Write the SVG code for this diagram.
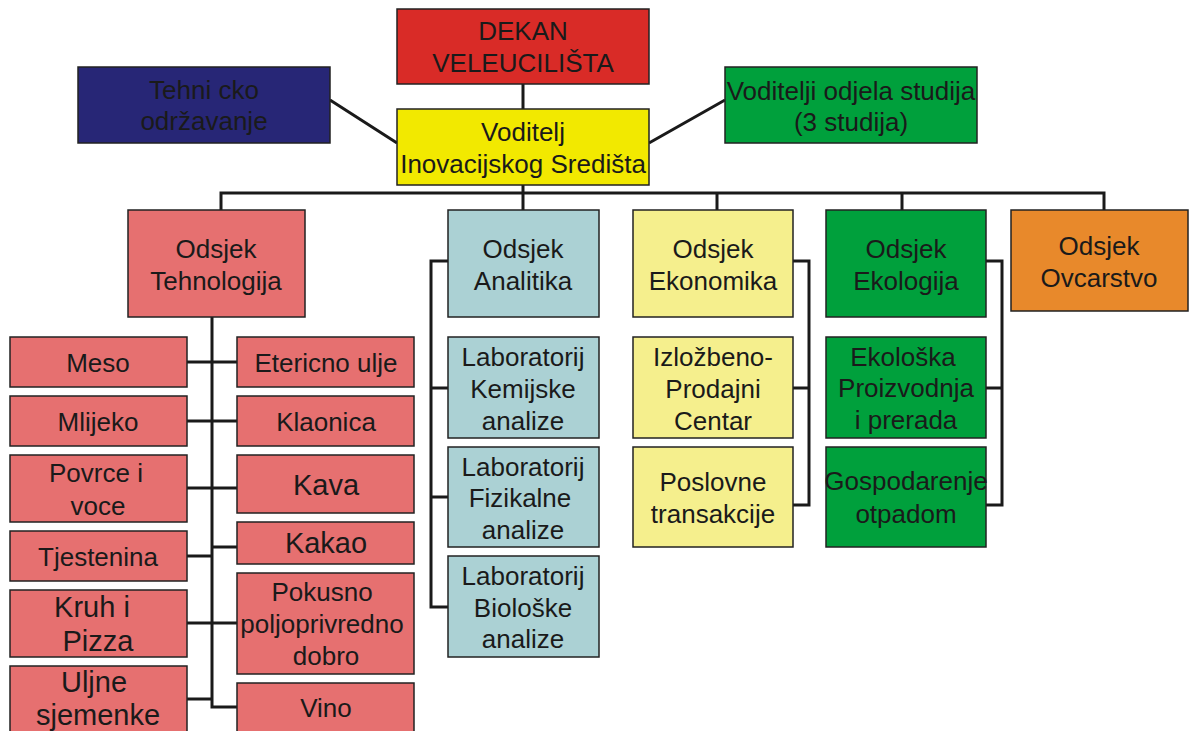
<svg xmlns="http://www.w3.org/2000/svg" width="1189" height="731" viewBox="0 0 1189 731">
<style>
.b{stroke:#222;stroke-width:1.5}
.red{fill:#d92b27}.navy{fill:#272676}.yel{fill:#f2e900}.grn{fill:#00a03c}
.pink{fill:#e67070}.blue{fill:#abd1d4}.lyel{fill:#f5ef8d}.org{fill:#e8892b}
text{font-family:"Liberation Sans",Arial,sans-serif;font-size:26px;fill:#1a1a1a;text-anchor:middle}
.big{font-size:29px}
.c{fill:none;stroke:#1a1a1a;stroke-width:3}
</style>
<rect width="1189" height="731" fill="#fff"/>
<g id="connectors">
<path class="c" d="M523 84V210M330 100L397 143M649 143L725 100"/>
<path class="c" d="M221 210V193H1104V210M717 193V210M902 193V210"/>
<path class="c" d="M212 317V707H237M187 362H237M187 421H237M187 488H237M187 556H212M212 547H237M187 623H237M187 699H212"/>
<path class="c" d="M448 261H431V607H448M431 388H448M431 497H448"/>
<path class="c" d="M793 261H809V505H793M793 388H809"/>
<path class="c" d="M986 261H1002V505H986M986 388H1002"/>
</g>
<g id="dekan"><rect class="b red" x="397" y="9" width="252" height="75"/><text x="523" y="40">DEKAN</text><text x="523" y="72">VELEUCILIŠTA</text></g>
<g id="tehnicko"><rect class="b navy" x="78" y="67" width="252" height="76"/><text x="204" y="99">Tehni cko</text><text x="204" y="130">održavanje</text></g>
<g id="voditelj"><rect class="b yel" x="397" y="109" width="252" height="76"/><text x="523" y="141">Voditelj</text><text x="523" y="173">Inovacijskog Središta</text></g>
<g id="voditelji"><rect class="b grn" x="725" y="67" width="252" height="76"/><text x="851" y="100">Voditelji odjela studija</text><text x="851" y="131">(3 studija)</text></g>
<g id="tehnologija"><rect class="b pink" x="128" y="210" width="177" height="107"/><text x="216" y="258">Odsjek</text><text x="216" y="290">Tehnologija</text></g>
<g id="analitika"><rect class="b blue" x="448" y="210" width="151" height="107"/><text x="523" y="258">Odsjek</text><text x="523" y="290">Analitika</text></g>
<g id="ekonomika"><rect class="b lyel" x="633" y="210" width="160" height="107"/><text x="713" y="258">Odsjek</text><text x="713" y="290">Ekonomika</text></g>
<g id="ekologija"><rect class="b grn" x="826" y="210" width="160" height="107"/><text x="906" y="258">Odsjek</text><text x="906" y="290">Ekologija</text></g>
<g id="ovcarstvo"><rect class="b org" x="1011" y="210" width="177" height="101"/><text x="1099" y="255">Odsjek</text><text x="1099" y="287">Ovcarstvo</text></g>
<g id="meso"><rect class="b pink" x="10" y="337" width="177" height="50"/><text x="98" y="372">Meso</text></g>
<g id="mlijeko"><rect class="b pink" x="10" y="396" width="177" height="50"/><text x="98" y="431">Mlijeko</text></g>
<g id="povrce"><rect class="b pink" x="10" y="455" width="177" height="67"/><text x="96" y="482">Povrce i</text><text x="98" y="515">voce</text></g>
<g id="tjestenina"><rect class="b pink" x="10" y="531" width="177" height="50"/><text x="98" y="566">Tjestenina</text></g>
<g id="kruh"><rect class="b pink" x="10" y="590" width="177" height="67"/><text class="big" x="92" y="617">Kruh i</text><text class="big" x="98" y="651">Pizza</text></g>
<g id="uljne"><rect class="b pink" x="10" y="666" width="177" height="70"/><text class="big" x="94" y="692">Uljne</text><text class="big" x="98" y="725">sjemenke</text></g>
<g id="etericno"><rect class="b pink" x="237" y="337" width="177" height="50"/><text x="326" y="372">Etericno ulje</text></g>
<g id="klaonica"><rect class="b pink" x="237" y="396" width="177" height="50"/><text x="326" y="431">Klaonica</text></g>
<g id="kava"><rect class="b pink" x="237" y="455" width="177" height="58"/><text class="big" x="326" y="495">Kava</text></g>
<g id="kakao"><rect class="b pink" x="237" y="522" width="177" height="42"/><text class="big" x="326" y="553">Kakao</text></g>
<g id="pokusno"><rect class="b pink" x="237" y="573" width="177" height="101"/><text x="322" y="601">Pokusno</text><text x="322" y="633">poljoprivredno</text><text x="326" y="665">dobro</text></g>
<g id="vino"><rect class="b pink" x="237" y="683" width="177" height="53"/><text x="326" y="717">Vino</text></g>
<g id="lab-kem"><rect class="b blue" x="448" y="337" width="151" height="101"/><text x="523" y="366">Laboratorij</text><text x="523" y="398">Kemijske</text><text x="523" y="430">analize</text></g>
<g id="lab-fiz"><rect class="b blue" x="448" y="447" width="151" height="100"/><text x="523" y="476">Laboratorij</text><text x="520" y="507">Fizikalne</text><text x="523" y="539">analize</text></g>
<g id="lab-bio"><rect class="b blue" x="448" y="556" width="151" height="101"/><text x="523" y="585">Laboratorij</text><text x="523" y="617">Biološke</text><text x="523" y="648">analize</text></g>
<g id="izlozbeno"><rect class="b lyel" x="633" y="337" width="160" height="101"/><text x="713" y="366">Izložbeno-</text><text x="713" y="398">Prodajni</text><text x="713" y="430">Centar</text></g>
<g id="poslovne"><rect class="b lyel" x="633" y="447" width="160" height="100"/><text x="713" y="491">Poslovne</text><text x="713" y="523">transakcije</text></g>
<g id="ekoloska"><rect class="b grn" x="826" y="337" width="160" height="101"/><text x="903" y="366">Ekološka</text><text x="906" y="397">Proizvodnja</text><text x="906" y="429">i prerada</text></g>
<g id="gospodarenje"><rect class="b grn" x="826" y="447" width="160" height="100"/><text x="906" y="490">Gospodarenje</text><text x="906" y="523">otpadom</text></g>
</svg>
